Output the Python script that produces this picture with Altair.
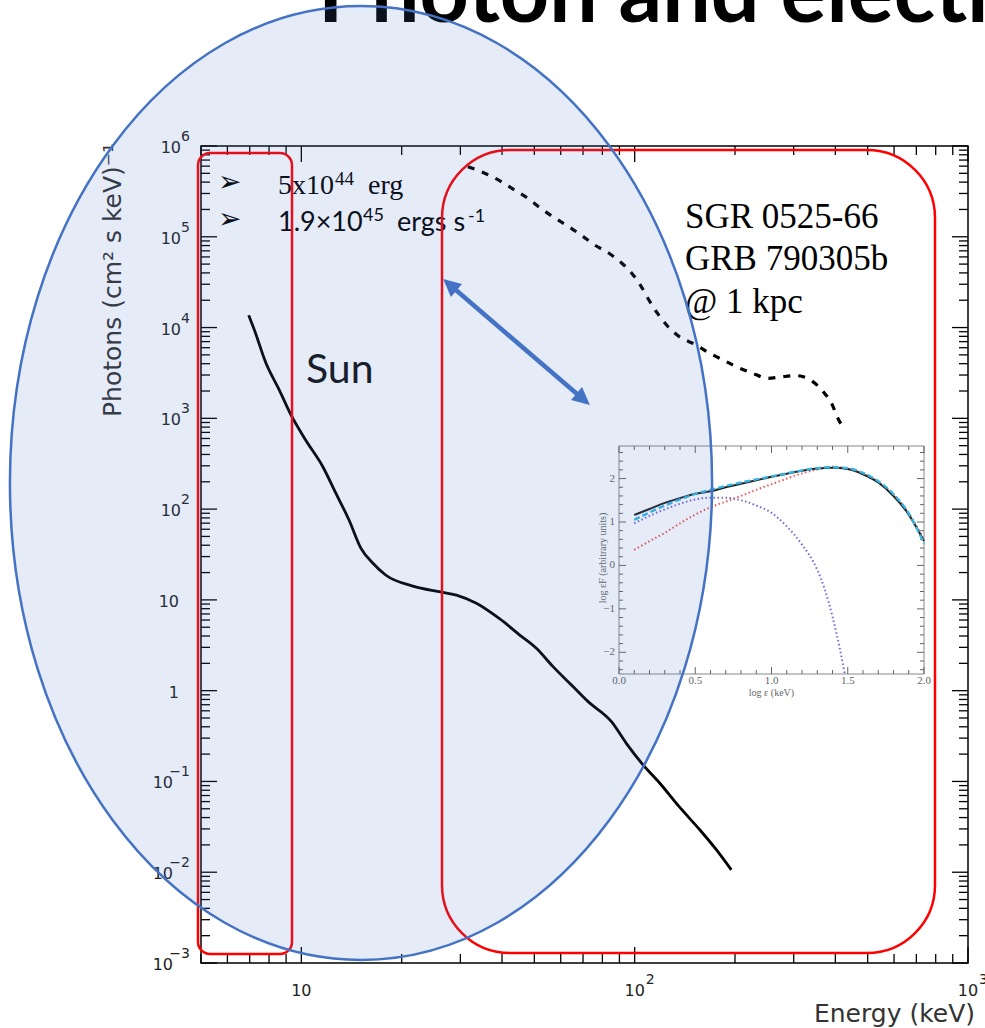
import altair as alt
import pandas as pd

# ---------------- spectra (photons cm^-2 s^-1 keV^-1) ----------------
# Solar flare spectrum
sun_energy = [6.95, 7.23, 7.83, 8.59, 9.31, 10.3, 11.6, 12.7, 13.9, 15.1, 16.4, 17.9,
              21.6, 25.9, 29.2, 33.5, 39.4, 45.2, 50.7, 56.9, 65.3, 72.5, 85.2, 94.4,
              106, 119, 136, 157, 176, 195]
sun_flux = [13700, 9400, 4070, 2050, 1090, 577, 293, 149, 75.9, 37.0, 25.3, 18.8,
            14.2, 12.3, 11.3, 9.18, 6.16, 4.10, 2.93, 1.84, 1.11, 0.757, 0.455, 0.263,
            0.152, 0.0955, 0.0527, 0.0292, 0.0176, 0.0106]

# SGR 0525-66 / GRB 790305b giant flare scaled to 1 kpc
sgr_energy = [31.6, 35.9, 39.3, 43.3, 47.8, 51.8, 56.9, 63.1, 69.7, 75.9, 83.7, 91.2,
              97.7, 104, 110, 117, 126, 137, 151, 166, 184, 202, 224, 251, 276, 306,
              339, 368, 392, 405, 427]
sgr_flux = [5.92e5, 4.92e5, 4.15e5, 3.33e5, 2.65e5, 2.11e5, 1.66e5, 1.31e5, 1.02e5,
            8.11e4, 6.58e4, 5.18e4, 4.02e4, 2.94e4, 2.05e4, 1.44e4, 1.02e4, 7810, 6590,
            5340, 4390, 3700, 3180, 2760, 2870, 2950, 2600, 1960, 1400, 1040, 745]

# ---------------- inset: log eF vs log e ----------------
inset_loge = [0.1, 0.2, 0.3, 0.4, 0.5, 0.6, 0.7, 0.8, 0.9, 1.0,
              1.1, 1.2, 1.3, 1.4, 1.5, 1.6, 1.7, 1.8, 1.9, 2.0]
inset_total = [1.16, 1.30, 1.44, 1.55, 1.65, 1.71, 1.80, 1.88, 1.96, 2.04,
               2.11, 2.18, 2.23, 2.25, 2.22, 2.10, 1.91, 1.60, 1.17, 0.56]
inset_model = [1.05, 1.22, 1.38, 1.52, 1.65, 1.74, 1.83, 1.91, 1.98, 2.05,
               2.12, 2.19, 2.24, 2.26, 2.24, 2.13, 1.94, 1.64, 1.20, 0.50]
inset_hard = [0.36, 0.56, 0.75, 0.97, 1.17, 1.34, 1.47, 1.60, 1.74, 1.87,
              2.00, 2.12, 2.21, 2.27, 2.23, 2.12, 1.92, 1.64, 1.20, 0.60]
inset_soft_loge = [0.1, 0.2, 0.3, 0.4, 0.5, 0.6, 0.7, 0.8, 0.9, 1.0,
                   1.1, 1.2, 1.3, 1.35, 1.4, 1.45, 1.48]
inset_soft = [0.97, 1.14, 1.29, 1.42, 1.52, 1.56, 1.56, 1.50, 1.38, 1.21,
              0.90, 0.48, -0.10, -0.56, -1.18, -1.95, -2.49]

# ---------------- axis ticks and labels ----------------
x_major = [10, 100, 1000]
x_minor = [k * 10 ** e for e in range(0, 3) for k in range(2, 10) if 5 <= k * 10 ** e < 1000]
y_major = [10.0 ** e for e in range(-3, 7)]
y_minor = [k * 10.0 ** e for e in range(-3, 6) for k in range(2, 10)]

y_label_vals = [1e6, 1e5, 1e4, 1e3, 1e2, 10, 1, 0.1, 0.01, 0.001]
y_label_base = ["10", "10", "10", "10", "10", "10", "1", "10", "10", "10"]
y_label_exp = ["6", "5", "4", "3", "2", "", "", "−1", "−2", "−3"]

x_label_vals = [10, 100, 1000]
x_label_base = ["10", "10", "10"]
x_label_exp = ["", "2", "3"]

inset_x_ticks = [0.0, 0.5, 1.0, 1.5, 2.0]
inset_x_text = ["0.0", "0.5", "1.0", "1.5", "2.0"]
inset_y_ticks = [-2, -1, 0, 1, 2]
inset_y_text = ["−2", "−1", "0", "1", "2"]
inset_x_minor = [round(i * 0.1, 1) for i in range(21) if i % 5]
inset_y_minor = [round(-2.4 + i * 0.2, 1) for i in range(26) if round(-2.4 + i * 0.2, 1) % 1]

# ---------------- layout ----------------
W, H = 767, 817          # main plot area
PAD = {"left": 201, "top": 146, "right": 17, "bottom": 65}
IX0, IX1, IY0, IY1 = 418, 723, 300, 528   # inset frame in plot pixels

xs = alt.Scale(type="log", domain=[5, 1000], nice=False)
ys = alt.Scale(type="log", domain=[1e-3, 1e6], nice=False)
xi = alt.Scale(domain=[0, 2], range=[IX0, IX1], nice=False, zero=False)
yi = alt.Scale(domain=[-2.5, 2.75], range=[IY1, IY0], nice=False, zero=False)

one = pd.DataFrame({"n": [0]})
AX_FONT = "DejaVu Sans"


def text(txt, x, y, size, font, color="black", align="left", baseline="alphabetic", **kw):
    return alt.Chart(one).mark_text(
        align=align, baseline=baseline, font=font, fontSize=size, color=color, **kw
    ).encode(x=alt.value(x), y=alt.value(y), text=alt.value(txt))


def tick_rules(values, scale, channel, side, length, extent, color="black", width=1.3):
    df = pd.DataFrame({"v": values})
    mark = alt.Chart(df).mark_rule(color=color, strokeWidth=width)
    lo, hi = extent
    if channel == "y":
        enc = {"y": alt.Y("v:Q", scale=scale, axis=None)}
        if side == "left":
            enc.update(x=alt.value(lo), x2=alt.value(lo + length))
        else:
            enc.update(x=alt.value(hi - length), x2=alt.value(hi))
    else:
        enc = {"x": alt.X("v:Q", scale=scale, axis=None)}
        if side == "bottom":
            enc.update(y=alt.value(hi), y2=alt.value(hi - length))
        else:
            enc.update(y=alt.value(lo), y2=alt.value(lo + length))
    return mark.encode(**enc)


# ---------------- main spectra ----------------
sun = alt.Chart(pd.DataFrame({"E": sun_energy, "F": sun_flux})).mark_line(
    color="black", strokeWidth=2.8, interpolate="monotone"
).encode(x=alt.X("E:Q", scale=xs, axis=None), y=alt.Y("F:Q", scale=ys, axis=None))

sgr = alt.Chart(pd.DataFrame({"E": sgr_energy, "F": sgr_flux})).mark_line(
    color="black", strokeWidth=3.2, strokeDash=[7, 8], interpolate="monotone"
).encode(x=alt.X("E:Q", scale=xs, axis=None), y=alt.Y("F:Q", scale=ys, axis=None))

main_ticks = []
for side in ("left", "right"):
    main_ticks.append(tick_rules(y_major, ys, "y", side, 16, (0, W)))
    main_ticks.append(tick_rules(y_minor, ys, "y", side, 9, (0, W)))
for side in ("bottom", "top"):
    main_ticks.append(tick_rules(x_major, xs, "x", side, 16, (0, H)))
    main_ticks.append(tick_rules(x_minor, xs, "x", side, 9, (0, H)))

ylab = pd.DataFrame({"v": y_label_vals, "b": y_label_base, "e": y_label_exp})
ybase = alt.Chart(ylab).mark_text(
    align="right", baseline="middle", font=AX_FONT, fontSize=16, color="#222", dy=2
)
ylabels = [
    ybase.transform_filter("datum.e == ''").encode(
        y=alt.Y("v:Q", scale=ys, axis=None), x=alt.value(-22), text="b:N"),
    ybase.transform_filter("datum.e != '' && indexof(datum.e, '−') < 0").encode(
        y=alt.Y("v:Q", scale=ys, axis=None), x=alt.value(-20), text="b:N"),
    ybase.transform_filter("indexof(datum.e, '−') == 0").encode(
        y=alt.Y("v:Q", scale=ys, axis=None), x=alt.value(-28), text="b:N"),
    alt.Chart(ylab).mark_text(
        align="right", baseline="middle", font=AX_FONT, fontSize=14, color="#222", dy=-9
    ).encode(y=alt.Y("v:Q", scale=ys, axis=None), x=alt.value(-11), text="e:N"),
]

xlab = pd.DataFrame({"v": x_label_vals, "b": x_label_base, "e": x_label_exp})
xlabels = [
    alt.Chart(xlab).mark_text(
        align="center", baseline="middle", font=AX_FONT, fontSize=16, color="#222"
    ).encode(x=alt.X("v:Q", scale=xs, axis=None), y=alt.value(H + 28), text="b:N"),
    alt.Chart(xlab).mark_text(
        align="left", baseline="middle", font=AX_FONT, fontSize=14, color="#222", dx=11
    ).encode(x=alt.X("v:Q", scale=xs, axis=None), y=alt.value(H + 17), text="e:N"),
]

titles = [
    text("Energy (keV)", W + 7, H + 59, 25, AX_FONT, color="#333", align="right"),
    text("Photons (cm² s keV)⁻¹", -80, 134, 25, AX_FONT, color="#333",
         align="center", angle=270),
]

notes = [
    text("Photon and electron", 117, -124, 86, "Lato", fontWeight="bold"),
    text("➢", 17, 37, 28, "DejaVu Sans", baseline="middle"),
    text("➢", 17, 74, 28, "DejaVu Sans", baseline="middle"),
    text("5x10", 77, 48, 28, "Liberation Serif"),
    text("44", 134, 39, 19, "Liberation Serif"),
    text("erg", 167, 48, 28, "Liberation Serif"),
    text("1.9×10", 77, 85, 27, "Lato"),
    text("45", 162, 75, 18, "Lato"),
    text("ergs s", 196, 85, 27, "Lato"),
    text("-1", 267, 76, 18, "Lato"),
    text("Sun", 105, 237, 41, "Lato", color="#111"),
    text("SGR 0525-66", 484, 82, 35, "Liberation Serif"),
    text("GRB 790305b", 484, 124, 35, "Liberation Serif"),
    text("@ 1 kpc", 484, 167, 35, "Liberation Serif"),
]

boxes = [
    alt.Chart(one).mark_rect(fillOpacity=0, stroke="#FF0000", strokeWidth=2.5, cornerRadius=12)
    .encode(x=alt.value(-3), x2=alt.value(91), y=alt.value(7), y2=alt.value(808)),
    alt.Chart(one).mark_rect(fillOpacity=0, stroke="#FF0000", strokeWidth=2.5, cornerRadius=68)
    .encode(x=alt.value(241), x2=alt.value(734), y=alt.value(4), y2=alt.value(807)),
]

main = alt.layer(sun, sgr, *main_ticks, *ylabels, *xlabels, *titles, *notes, *boxes)

# ---------------- inset ----------------
INK = "#666"
inset_layers = [
    alt.Chart(one).mark_rect(fillOpacity=0, stroke="#888", strokeWidth=1)
    .encode(x=alt.value(IX0), x2=alt.value(IX1), y=alt.value(IY0), y2=alt.value(IY1)),
]
for side in ("bottom", "top"):
    inset_layers.append(tick_rules(inset_x_ticks, xi, "x", side, 7, (IY0, IY1), color=INK, width=1))
    inset_layers.append(tick_rules(inset_x_minor, xi, "x", side, 4, (IY0, IY1), color=INK, width=1))
for side in ("left", "right"):
    inset_layers.append(tick_rules(inset_y_ticks, yi, "y", side, 7, (IX0, IX1), color=INK, width=1))
    inset_layers.append(tick_rules(inset_y_minor, yi, "y", side, 4, (IX0, IX1), color=INK, width=1))

inset_layers += [
    alt.Chart(pd.DataFrame({"v": inset_x_ticks, "t": inset_x_text})).mark_text(
        align="center", baseline="middle", font="Liberation Serif", fontSize=11, color=INK
    ).encode(x=alt.X("v:Q", scale=xi, axis=None), y=alt.value(IY1 + 7), text="t:N"),
    alt.Chart(pd.DataFrame({"v": inset_y_ticks, "t": inset_y_text})).mark_text(
        align="right", baseline="middle", font="Liberation Serif", fontSize=11, color=INK
    ).encode(y=alt.Y("v:Q", scale=yi, axis=None), x=alt.value(IX0 - 4), text="t:N"),
    text("log ε  (keV)", (IX0 + IX1) / 2, IY1 + 22, 10, "Liberation Serif", color=INK, align="center"),
    text("log εF (arbitrary units)", IX0 - 13, 412, 10, "Liberation Serif", color=INK,
         align="center", angle=270),
]


def inset_curve(xv, yv, color, width, dash=None):
    props = dict(color=color, strokeWidth=width, interpolate="monotone")
    if dash:
        props["strokeDash"] = dash
    return alt.Chart(pd.DataFrame({"x": xv, "y": yv})).mark_line(**props).encode(
        x=alt.X("x:Q", scale=xi, axis=None), y=alt.Y("y:Q", scale=yi, axis=None))


inset_layers += [
    inset_curve(inset_loge, inset_hard, "#F05555", 2.0, [1.5, 2.5]),
    inset_curve(inset_soft_loge, inset_soft, "#7766DD", 2.0, [1.5, 2.5]),
    inset_curve(inset_loge, inset_total, "#222222", 2.0),
    inset_curve(inset_loge, inset_model, "#33B5E5", 2.4, [6, 3]),
]
inset = alt.layer(*inset_layers)

# ---------------- highlight ellipse and double arrow ----------------
ELLIPSE = "M-0.736,0A0.736,1,0,1,0,0.736,0A0.736,1,0,1,0,-0.736,0Z"
HEAD = "M0,-1L0.65,0.35L-0.65,0.35Z"
BLUE = "#4472C4"
deco = alt.layer(
    alt.Chart(one).mark_point(
        shape=ELLIPSE, size=910116, filled=True, fill=BLUE, fillOpacity=0.14,
        stroke=BLUE, strokeWidth=2.5, strokeOpacity=1, opacity=1
    ).encode(x=alt.value(160), y=alt.value(337)),
    alt.Chart(one).mark_rule(color=BLUE, strokeWidth=4.5).encode(
        x=alt.value(252), y=alt.value(141.5), x2=alt.value(379), y2=alt.value(250.5)),
    alt.Chart(one).mark_point(shape=HEAD, size=676, filled=True, fill=BLUE, opacity=1,
                              angle=130.6).encode(x=alt.value(379), y=alt.value(250.5)),
    alt.Chart(one).mark_point(shape=HEAD, size=676, filled=True, fill=BLUE, opacity=1,
                              angle=310.6).encode(x=alt.value(252), y=alt.value(141.5)),
)

chart = (
    alt.layer(main, inset, deco)
    .resolve_scale(x="independent", y="independent")
    .properties(width=W, height=H, padding=PAD,
                autosize=alt.AutoSizeParams(type="none"), background="white")
    .configure_view(stroke="black", strokeWidth=1.5)
)

chart.save("out.html", embed_options={"renderer": "svg", "actions": False})
